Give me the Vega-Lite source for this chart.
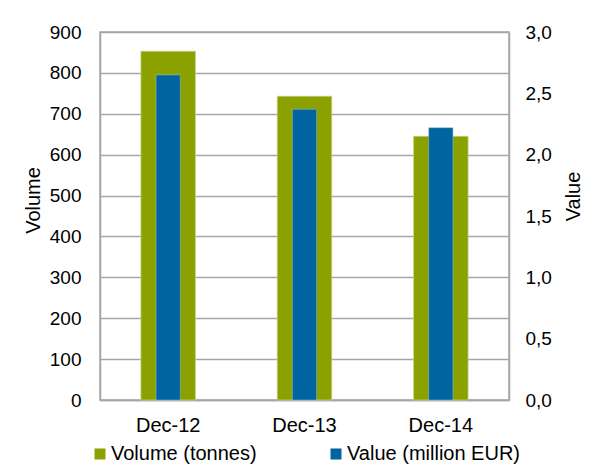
{
  "$schema": "https://vega.github.io/schema/vega-lite/v6.json",
  "width": 409,
  "height": 368,
  "autosize": {"type": "none"},
  "padding": {"left": 100, "top": 32, "right": 88, "bottom": 73},
  "background": "white",
  "config": {
    "font": "Liberation Sans",
    "view": {"stroke": "#a6a6a6", "strokeWidth": 1.5},
    "axis": {
      "labelFont": "Liberation Sans",
      "titleFont": "Liberation Sans",
      "labelFontSize": 19,
      "titleFontSize": 20,
      "labelColor": "#000000",
      "titleColor": "#000000",
      "titleFontWeight": "normal",
      "ticks": false,
      "domainColor": "#a6a6a6",
      "domainWidth": 1.5,
      "gridColor": "#a6a6a6",
      "gridWidth": 1.5
    },
    "legend": {
      "labelFont": "Liberation Sans",
      "labelFontSize": 20,
      "labelColor": "#000000",
      "labelLimit": 400
    }
  },
  "data": {
    "values": [
      {"month": "Dec-12", "volume": 853, "value": 2.65},
      {"month": "Dec-13", "volume": 743, "value": 2.37},
      {"month": "Dec-14", "volume": 645, "value": 2.22}
    ]
  },
  "encoding": {
    "x": {
      "field": "month",
      "type": "nominal",
      "scale": {"paddingInner": 0.6, "paddingOuter": 0.3},
      "axis": {"title": null, "labelAngle": 0, "labelPadding": 15, "labelFontSize": 20, "grid": false}
    }
  },
  "layer": [
    {
      "mark": {"type": "bar", "stroke": "#c9d68a", "strokeWidth": 0.7},
      "encoding": {
        "y": {
          "field": "volume",
          "type": "quantitative",
          "scale": {"domain": [0, 900], "nice": false},
          "axis": {
            "title": "Volume",
            "values": [0, 100, 200, 300, 400, 500, 600, 700, 800, 900],
            "labelPadding": 19,
            "titlePadding": 6,
            "titleY": 168,
            "grid": true
          }
        },
        "color": {
          "datum": "Volume (tonnes)",
          "type": "nominal",
          "scale": {
            "domain": ["Volume (tonnes)", "Value (million EUR)"],
            "range": ["#8aa100", "#0064a0"]
          },
          "legend": {
            "title": null,
            "orient": "none",
            "direction": "horizontal",
            "legendX": -10,
            "legendY": 412,
            "padding": 0,
            "symbolType": "square",
            "symbolSize": 121,
            "symbolStrokeWidth": 0,
            "labelOffset": 1,
            "columnPadding": 69
          }
        }
      }
    },
    {
      "mark": {"type": "bar", "width": {"band": 0.445}, "stroke": "#9fc0d8", "strokeWidth": 0.5},
      "encoding": {
        "y": {
          "field": "value",
          "type": "quantitative",
          "scale": {"domain": [0, 3], "nice": false},
          "axis": {
            "title": "Value",
            "orient": "right",
            "values": [0, 0.5, 1, 1.5, 2, 2.5, 3],
            "labelExpr": "replace(format(datum.value, '.1f'), '.', ',')",
            "labelPadding": 16,
            "titleAngle": 270,
            "titleBaseline": "top",
            "titlePadding": 12,
            "titleY": 164,
            "grid": false
          }
        },
        "color": {"datum": "Value (million EUR)", "type": "nominal"}
      }
    }
  ],
  "resolve": {"scale": {"y": "independent"}}
}
